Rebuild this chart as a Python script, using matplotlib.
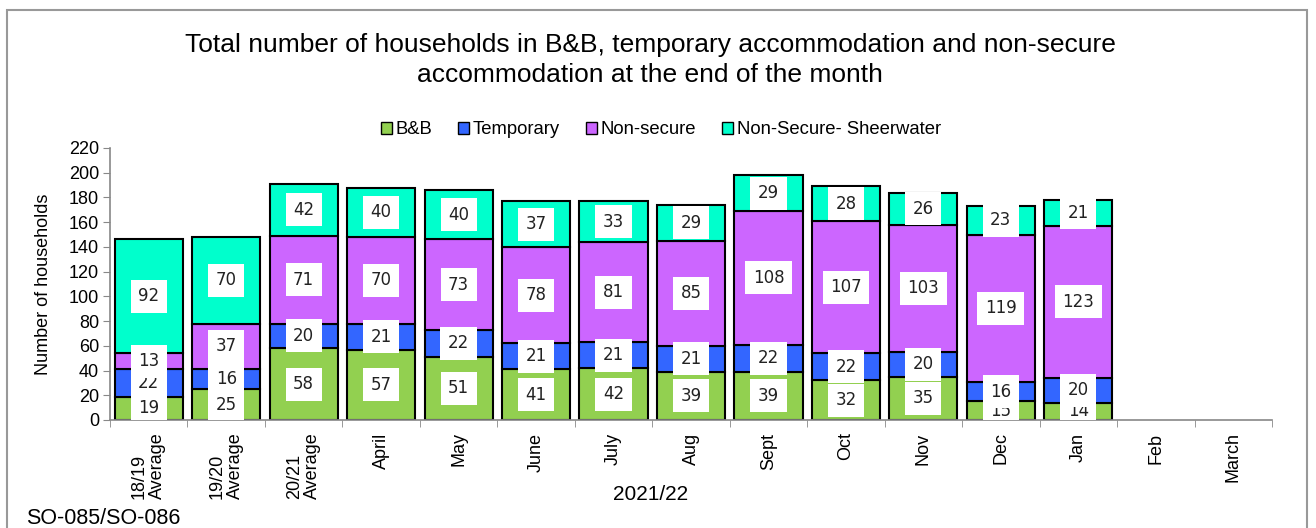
import matplotlib
matplotlib.use("Agg")
import matplotlib.pyplot as plt
import numpy as np
from matplotlib.patches import Rectangle

categories = ["18/19\nAverage", "19/20\nAverage", "20/21\nAverage", "April", "May", "June",
              "July", "Aug", "Sept", "Oct", "Nov", "Dec", "Jan", "Feb", "March"]
bnb = [19, 25, 58, 57, 51, 41, 42, 39, 39, 32, 35, 15, 14]
temporary = [22, 16, 20, 21, 22, 21, 21, 21, 22, 22, 20, 16, 20]
non_secure = [13, 37, 71, 70, 73, 78, 81, 85, 108, 107, 103, 119, 123]
sheerwater = [92, 70, 42, 40, 40, 37, 33, 29, 29, 28, 26, 23, 21]

series = [("B&B", bnb, "#92D050"),
          ("Temporary", temporary, "#3366FF"),
          ("Non-secure", non_secure, "#CC66FF"),
          ("Non-Secure- Sheerwater", sheerwater, "#00FFCC")]

plt.rcParams['font.family'] = ['Liberation Sans', 'DejaVu Sans']

fig = plt.figure(figsize=(13.16, 5.28), dpi=100)
ax = fig.add_axes([110/1316, 1-420/528, (1272-110)/1316, (420-148)/528])

n = len(bnb)
x = np.arange(n)
bottom = np.zeros(n)
for name, vals, col in series:
    v = np.array(vals, dtype=float)
    ax.bar(x, v, bottom=bottom, width=0.88, color=col, edgecolor="black",
           linewidth=1.5, label=name)
    for xi, (b, h) in enumerate(zip(bottom, v)):
        ax.text(xi, b + h/2, str(int(h)), ha="center", va="center", fontsize=12,
                color="#222222", family="DejaVu Sans", clip_on=True,
                bbox=dict(boxstyle="square,pad=0.45", fc="white", ec="none"))
    bottom += v

ax.set_xlim(-0.5, len(categories)-0.5)
ax.set_ylim(0, 220)
ax.set_yticks(np.arange(0, 221, 20))
ax.set_xticks(np.arange(len(categories)))
ax.set_xticklabels(categories, rotation=90, fontsize=13, linespacing=1.1)
for t in ax.get_xticklabels():
    t.set_multialignment("left")
ax.set_xticks(np.arange(len(categories)+1)-0.5, minor=True)
ax.tick_params(axis="x", which="major", length=0, pad=9)
ax.tick_params(axis="x", which="minor", length=5, color="#888888", direction="out")
ax.tick_params(axis="y", length=5, color="#888888", labelsize=13, pad=3)
for s in ["top", "right"]:
    ax.spines[s].set_visible(False)
for s in ["left", "bottom"]:
    ax.spines[s].set_color("#888888")
    ax.spines[s].set_linewidth(1.2)
ax.set_ylabel("Number of households", fontsize=13)
ax.yaxis.set_label_coords((52-110)/1162, 0.5)

fig.text(650/1316, 1-60/528, "Total number of households in B&B, temporary accommodation and non-secure\naccommodation at the end of the month",
         ha="center", va="center", fontsize=19, linespacing=1.3)

leg = fig.legend(loc="center", bbox_to_anchor=(661/1316, 1-130/528), ncol=4, frameon=False,
                 fontsize=13.3, handlelength=0.6, handleheight=0.6, handletextpad=0.2,
                 columnspacing=1.4)
for h in leg.legend_handles:
    h.set_linewidth(1.0)

fig.text(651/1316, 1-494/528, "2021/22", ha="center", va="center", fontsize=15)
fig.text(26/1316, 1-518/528, "SO-085/SO-086", ha="left", va="center", fontsize=15.5)

fig.patches.append(Rectangle((7/1316, -0.05), (1307-7)/1316, 1.05-10/528,
                             transform=fig.transFigure, fill=False, ec="#999999", lw=1.5))

fig.savefig("out.png", dpi=100)
